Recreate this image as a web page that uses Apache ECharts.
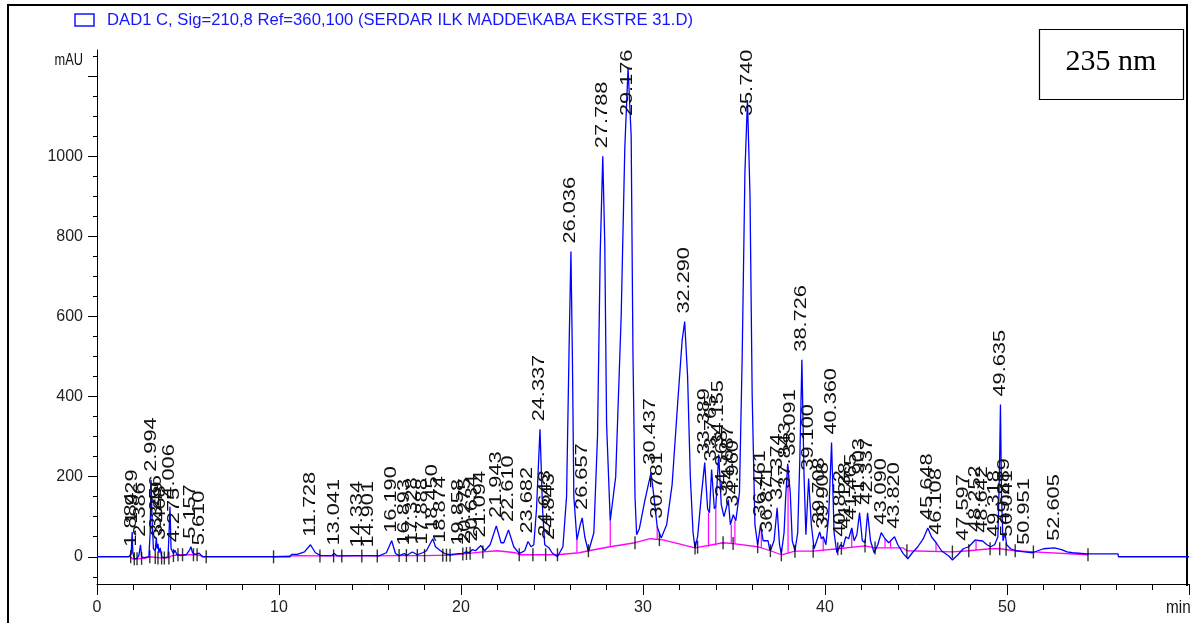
<!DOCTYPE html>
<html><head><meta charset="utf-8">
<script src="https://cdn.jsdelivr.net/npm/echarts@6/dist/echarts.min.js"></script>
<style>html,body{margin:0;padding:0;background:#fff}#c{width:1193px;height:623px}</style>
</head><body><div id="c"></div>
<script>
// Chromatogram trace: [time (min), signal (mAU)]
const trace = [
[0,0],[1.75,0],[1.82,-3],[1.88,8],[1.93,62],[1.97,10],[2.05,-5],[2.2,-4],[2.3,3],[2.39,30],[2.45,0],[2.6,-2],[2.85,0],
[2.92,60],[2.97,192],[3.03,90],[3.1,20],[3.2,15],[3.26,48],[3.3,20],[3.35,32],[3.4,10],[3.47,22],[3.55,0],[3.7,-3],
[3.9,0],[3.96,60],[4.01,125],[4.07,20],[4.2,8],[4.28,16],[4.4,5],[4.6,3],[4.9,5],[5.1,18],[5.16,25],[5.25,10],[5.4,6],
[5.61,9],[5.8,0],[10.6,0],[10.7,6],[11.0,6],[11.4,12],[11.73,30],[12.0,10],[12.3,3],[12.9,3],[13.04,8],[13.2,2],
[14.33,3],[14.9,3],[15.5,2],[15.9,10],[16.19,40],[16.4,8],[16.6,3],[16.89,8],[17.0,3],[17.33,12],[17.6,5],[17.89,10],
[18.1,15],[18.45,45],[18.6,25],[18.87,15],[19.1,8],[19.4,5],[19.86,8],[20.1,8],[20.28,12],[20.45,10],[20.63,18],
[20.8,15],[21.09,28],[21.3,15],[21.6,30],[21.94,77],[22.2,35],[22.35,35],[22.61,67],[22.9,25],[23.2,8],[23.5,15],
[23.68,38],[23.85,25],[24.0,30],[24.15,120],[24.34,318],[24.48,120],[24.6,30],[24.7,28],[24.84,22],[25.0,10],[25.3,0],
[25.6,25],[25.8,150],[25.95,550],[26.04,762],[26.12,500],[26.2,150],[26.37,42],[26.55,80],[26.66,97],[26.8,50],
[27.0,12],[27.3,60],[27.5,300],[27.65,760],[27.79,1000],[27.9,780],[28.0,330],[28.2,90],[28.5,200],[28.8,600],
[29.0,1020],[29.18,1220],[29.35,1050],[29.45,500],[29.56,150],[29.65,55],[29.8,70],[30.1,140],[30.44,210],[30.6,150],
[30.78,75],[31.0,47],[31.3,80],[31.6,180],[31.9,380],[32.15,540],[32.29,587],[32.45,450],[32.6,200],[32.75,60],
[32.86,22],[33.0,50],[33.2,150],[33.39,235],[33.55,120],[33.65,110],[33.77,218],[33.92,120],[34.0,125],[34.16,255],
[34.3,130],[34.45,100],[34.69,142],[34.8,80],[34.96,105],[35.1,90],[35.3,160],[35.45,500],[35.6,960],[35.74,1140],
[35.88,900],[36.0,400],[36.15,80],[36.3,30],[36.46,80],[36.6,40],[36.87,40],[36.95,20],[37.0,15],[37.2,40],
[37.37,122],[37.5,30],[37.6,8],[37.75,60],[37.84,150],[37.95,232],[38.09,160],[38.2,40],[38.35,15],[38.5,60],
[38.62,250],[38.73,492],[38.85,200],[38.95,55],[39.1,195],[39.25,80],[39.4,20],[39.55,40],[39.71,62],[39.8,45],
[39.91,50],[40.05,30],[40.2,100],[40.36,285],[40.5,60],[40.65,10],[40.85,30],[41.0,25],[41.14,50],[41.3,45],
[41.47,72],[41.6,40],[41.75,55],[41.9,110],[42.05,40],[42.2,35],[42.34,110],[42.5,40],[42.7,10],[42.9,30],
[43.09,60],[43.3,45],[43.5,35],[43.82,50],[44.0,30],[44.3,8],[44.55,-5],[44.8,10],[45.1,25],[45.4,45],[45.65,72],
[45.85,50],[46.11,35],[46.4,15],[46.8,2],[47.0,-8],[47.3,5],[47.6,20],[47.9,25],[48.25,42],[48.5,40],[48.64,40],
[48.9,30],[49.1,25],[49.32,30],[49.5,50],[49.58,200],[49.64,380],[49.7,150],[49.78,40],[49.89,60],[49.98,30],
[50.04,30],[50.2,20],[50.5,15],[50.95,12],[51.4,10],[52.0,20],[52.6,22],[53.0,18],[53.3,12],[53.6,10],[54.4,7],
[56.1,7],[56.12,0],[60,0]
];
// Integration baseline (magenta)
const baseline = [
[1.8,0],[2.0,-6],[2.6,-4],[2.9,0],[3.5,-3],[3.9,-3],[4.1,2],[4.5,5],[5.5,5],[5.9,0],null,
[9.7,0],[11.0,3],[12.25,2],[13,2],[15,2],[16.6,3],[18,3],[19.4,4],[20.3,8],[21.2,12],[22,15],[23,10],[23.2,5],
[24.65,5],[25.3,5],[26.5,10],[27.0,15],[28.2,25],[29.56,35],[30.4,45],[31.1,42],[32.86,22],[34.4,35],[34.95,33],
[36.3,25],[37.0,15],[37.6,5],[38.35,14],[39.35,14],[40.7,20],[42.2,27],[42.75,22],[44.3,22],[44.5,15],[47.0,12],
[47.9,15],[49.07,20],[49.6,20],[50.45,15],[51.45,12],[54.45,5]
];
// Peak labels: [retention time, apex height (mAU), label]
const peakLabels = [
[1.884,5,'1.884'],[1.929,62,'1.929'],[2.386,30,'2.386'],[2.994,192,'2.994'],[3.256,48,'3.256'],[3.349,32,'3.349'],
[3.468,22,'3.468'],[4.006,125,'4.006'],[4.275,16,'4.275'],[5.157,25,'5.157'],[5.610,9,'5.610'],[11.728,30,'11.728'],
[13.041,8,'13.041'],[14.334,3,'14.334'],[14.901,3,'14.901'],[16.190,40,'16.190'],[16.893,8,'16.893'],[17.328,12,'17.328'],
[17.888,10,'17.888'],[18.450,45,'18.450'],[18.874,15,'18.874'],[19.858,8,'19.858'],[20.275,12,'20.275'],[20.634,18,'20.634'],
[21.094,28,'21.094'],[21.943,77,'21.943'],[22.610,67,'22.610'],[23.682,38,'23.682'],[24.337,318,'24.337'],[24.643,30,'24.643'],
[24.843,22,'24.843'],[26.036,762,'26.036'],[26.657,97,'26.657'],[27.788,1000,'27.788'],[29.176,1220,'29.176'],
[30.437,210,'30.437'],[30.781,75,'30.781'],[32.290,587,'32.290'],[33.389,235,'33.389'],[33.765,218,'33.765'],
[34.155,255,'34.155'],[34.368,130,'34.368'],[34.687,142,'34.687'],[34.960,105,'34.960'],[35.740,1140,'35.740'],
[36.461,80,'36.461'],[36.871,40,'36.871'],[37.374,122,'37.374'],[37.843,150,'37.843'],[38.091,232,'38.091'],
[38.726,492,'38.726'],[39.100,195,'39.100'],[39.708,62,'39.708'],[39.908,50,'39.908'],[40.360,285,'40.360'],
[40.852,30,'40.852'],[41.138,50,'41.138'],[41.465,72,'41.465'],[41.903,110,'41.903'],[42.337,110,'42.337'],
[43.090,60,'43.090'],[43.820,50,'43.820'],[45.648,72,'45.648'],[46.108,35,'46.108'],[47.597,20,'47.597'],
[48.252,42,'48.252'],[48.642,40,'48.642'],[49.318,30,'49.318'],[49.635,380,'49.635'],[49.889,60,'49.889'],
[50.041,30,'50.041'],[50.951,10,'50.951'],[52.605,20,'52.605']
];
// Integration event tick marks: [time, mAU]
const eventTicks = [
[1.85,0],[2.05,-5],[2.2,-5],[2.45,-4],[2.9,0],[3.2,-2],[3.35,-3],[3.55,-3],[3.7,-3],[3.95,-3],[4.2,3],[4.45,5],
[4.7,5],[5.3,5],[5.5,5],[6.0,0],[9.7,0],[12.25,2],[13.0,2],[13.45,2],[14.55,2],[15.4,2],[16.6,3],[17.0,3],[17.6,3],
[18.0,3],[19.0,4],[19.2,4],[19.4,4],[20.1,7],[20.3,8],[20.5,9],[21.2,12],[23.2,5],[23.95,5],[24.65,5],[25.3,5],
[27.0,15],[29.56,35],[30.9,43],[32.86,22],[33.0,24],[34.4,35],[34.95,33],[36.3,25],[37.0,15],[37.6,5],[38.35,14],
[39.35,14],[40.7,20],[40.9,21],[42.2,27],[42.75,22],[44.5,15],[47.0,12],[47.9,15],[49.07,20],[49.6,20],[49.95,19],
[50.45,15],[51.45,12],[54.45,5]
];
// Magenta drop lines: [time, from mAU, to mAU]
const dropLines = [
[26.37,10,42],[28.2,25,90],[30.78,43,75],[33.6,25,110],[34.0,28,125],[34.85,34,80],[35.05,33,90],[36.5,22,70],
[37.97,8,225],[39.9,14,50],[41.47,22,72],[43.3,23,45],[43.6,23,40],[46.1,14,35],[48.3,17,40]
];
const xTickLabels = [0,10,20,30,40,50];
const yTickLabels = [0,200,400,600,800,1000];
const yMajorTicks = [0,200,400,600,800,1000,1200];
const yMinorTicks = [-50,0,50,100,150,200,250,300,350,400,450,500,550,600,650,700,750,800,850,900,950,1000,1050,1100,1150,1200,1250];
const legendText = 'DAD1 C, Sig=210,8 Ref=360,100 (SERDAR ILK MADDE\\KABA EKSTRE 31.D)';
const boxText = '235 nm';

const YMIN = -68, YMAX = 1265;
const chart = echarts.init(document.getElementById('c'), null, {renderer: 'canvas'});
const ctx = document.createElement('canvas').getContext('2d');
const legendFont = '17px "Liberation Sans", Arial, sans-serif';
ctx.font = legendFont;
const legendScale = 586 / ctx.measureText(legendText).width;

const labelFont = '16px "Liberation Sans", Arial, sans-serif';

chart.setOption({
  animation: false,
  backgroundColor: '#fff',
  grid: {left: 97, right: 4, top: 50, bottom: 39},
  xAxis: {
    type: 'value', min: 0, max: 60, interval: 10,
    axisLine: {show: true, onZero: false, lineStyle: {color: '#000', width: 1}},
    axisTick: {show: true, length: 11, lineStyle: {color: '#000'}},
    minorTick: {show: true, splitNumber: 5, length: 6, lineStyle: {color: '#000'}},
    splitLine: {show: false},
    axisLabel: {
      color: '#222', fontSize: 16, fontFamily: '"Liberation Sans", Arial, sans-serif', margin: 16,
      formatter: v => xTickLabels.indexOf(v) >= 0 ? String(v) : ''
    }
  },
  yAxis: [{
    type: 'value', min: YMIN, max: YMAX,
    axisLine: {show: true, onZero: false, lineStyle: {color: '#000', width: 1}},
    axisTick: {show: true, length: 9, customValues: yMajorTicks, lineStyle: {color: '#000'}},
    axisLabel: {show: true, customValues: yTickLabels, color: '#222', fontSize: 16,
      fontFamily: '"Liberation Sans", Arial, sans-serif', margin: 14,
      formatter: v => String(v)},
    splitLine: {show: false}
  }, {
    type: 'value', min: YMIN, max: YMAX, position: 'left',
    axisLine: {show: false},
    axisTick: {show: true, length: 4, customValues: yMinorTicks, lineStyle: {color: '#000'}},
    axisLabel: {show: false},
    splitLine: {show: false}
  }],
  series: [
    {
      type: 'line', data: baseline, yAxisIndex: 0, showSymbol: false, symbol: 'none',
      connectNulls: false, lineStyle: {color: '#ff00ff', width: 1.3}, z: 2
    },
    {
      type: 'custom', yAxisIndex: 0, z: 3,
      data: dropLines,
      renderItem: (params, api) => {
        const a = api.coord([api.value(0), api.value(1)]);
        const b = api.coord([api.value(0), api.value(2)]);
        return {type: 'line', shape: {x1: a[0], y1: a[1], x2: b[0], y2: b[1]},
          style: {stroke: '#ff00ff', lineWidth: 1.2}};
      }
    },
    {
      type: 'line', data: trace, yAxisIndex: 0, showSymbol: false, symbol: 'none',
      lineStyle: {color: '#0000ff', width: 1.3}, z: 4
    },
    {
      type: 'scatter', data: eventTicks, yAxisIndex: 0, symbol: 'rect', symbolSize: [1.4, 13],
      itemStyle: {color: '#000'}, z: 5, silent: true
    },
    {
      type: 'custom', yAxisIndex: 0, z: 6, clip: false,
      data: peakLabels.map(d => [d[0], d[1]]),
      renderItem: (params, api) => {
        const p = api.coord([api.value(0), api.value(1)]);
        const cap = api.coord([0, 1100])[1];
        const y = Math.max(p[1] - 8, cap);
        return {type: 'text', x: p[0], y: y, rotation: Math.PI / 2, scaleX: 1.36, scaleY: 1,
          style: {text: peakLabels[params.dataIndex][2], font: labelFont, fill: '#111',
            align: 'left', verticalAlign: 'middle'}};
      }
    }
  ],
  graphic: [
    {type: 'polyline', silent: true, shape: {points: [[8, 623], [8, 5], [1187, 5], [1187, 586]]},
      style: {stroke: '#000', lineWidth: 2, fill: null}},
    {type: 'rect', shape: {x: 75, y: 14, width: 19, height: 12},
      style: {stroke: '#1515ff', lineWidth: 1.5, fill: null}},
    {type: 'text', x: 107, y: 20, scaleX: legendScale,
      style: {text: legendText, font: legendFont, fill: '#1515ff', verticalAlign: 'middle', align: 'left'}},
    {type: 'text', x: 83, y: 61, scaleX: 0.8,
      style: {text: 'mAU', font: '16px "Liberation Sans", Arial, sans-serif', fill: '#111', align: 'right', verticalAlign: 'middle'}},
    {type: 'text', x: 1166, y: 608, scaleX: 0.85,
      style: {text: 'min', font: '18px "Liberation Sans", Arial, sans-serif', fill: '#111', align: 'left', verticalAlign: 'middle'}},
    {type: 'rect', shape: {x: 1039.5, y: 29.5, width: 144, height: 70},
      style: {stroke: '#000', lineWidth: 1.2, fill: '#fff'}},
    {type: 'text', x: 1111, y: 62,
      style: {text: boxText, font: '30px "Liberation Serif", "Times New Roman", serif', fill: '#000', align: 'center', verticalAlign: 'middle'}}
  ]
});
</script>
</body></html>
